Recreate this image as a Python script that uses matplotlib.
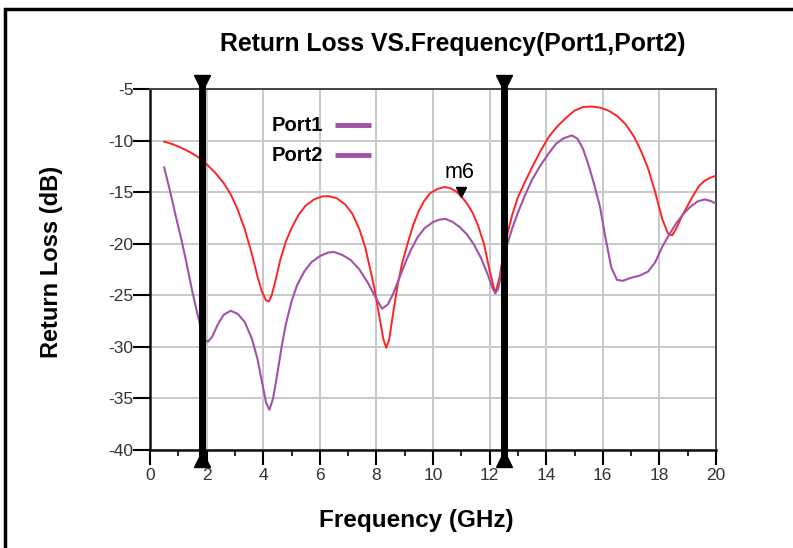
"""
Return loss vs. frequency for the two ports, with marker lines and m6 marker.
"""

from __future__ import annotations

import matplotlib

matplotlib.use("Agg")
import matplotlib.pyplot as plt
from matplotlib.patches import Rectangle
from matplotlib.transforms import blended_transform_factory

plt.rcParams.update(
    {
        "font.family": ["Liberation Sans", "DejaVu Sans"],
        "axes.unicode_minus": False,
    }
)

# Port1 (red trace)
port1_freq = [
    0.5, 0.8, 1.1, 1.4, 1.7, 2.0, 2.3, 2.6, 2.85, 3.1, 3.35, 3.6, 3.8, 3.95,
    4.1, 4.2, 4.3, 4.45, 4.6, 4.8, 5.0, 5.25, 5.5, 5.8, 6.1, 6.35, 6.6, 6.9,
    7.15, 7.4, 7.6, 7.8, 7.95, 8.1, 8.25, 8.35, 8.45, 8.6, 8.75, 8.9, 9.1,
    9.3, 9.5, 9.7, 9.9, 10.15, 10.4, 10.6, 10.8, 11.0, 11.2, 11.4, 11.6,
    11.8, 12.0, 12.2, 12.35, 12.5, 12.65, 12.8, 13.0, 13.25, 13.5, 13.8,
    14.1, 14.4, 14.7, 15.0, 15.3, 15.6, 15.9, 16.2, 16.5, 16.8, 17.1, 17.35,
    17.6, 17.85, 18.1, 18.3, 18.45, 18.6, 18.8, 19.0, 19.2, 19.4, 19.6,
    19.8, 20.0,
]
port1_rl = [
    -10.1, -10.35, -10.7, -11.1, -11.6, -12.3, -13.1, -14.1, -15.2, -16.7,
    -18.6, -21.0, -23.2, -24.6, -25.5, -25.6, -25.0, -23.4, -21.6, -19.8,
    -18.5, -17.2, -16.3, -15.7, -15.4, -15.4, -15.6, -16.2, -17.1, -18.6,
    -20.3, -22.7, -24.6, -27.0, -29.3, -30.1, -29.3, -26.6, -24.0, -22.0,
    -20.0, -18.2, -16.8, -15.8, -15.1, -14.7, -14.5, -14.6, -14.9, -15.4,
    -16.1, -17.0, -18.3, -20.0, -22.6, -24.8, -23.3, -20.8, -18.8, -17.2,
    -15.5, -14.0, -12.6, -11.0, -9.6, -8.6, -7.8, -7.1, -6.75, -6.7, -6.8,
    -7.1, -7.6, -8.4, -9.6, -11.0, -12.7, -15.0, -17.6, -19.0, -19.2, -18.5,
    -17.3, -16.3, -15.3, -14.4, -13.9, -13.6, -13.4,
]

# Port2 (purple trace)
port2_freq = [
    0.5, 0.7, 0.9, 1.1, 1.3, 1.5, 1.65, 1.78, 1.9, 2.05, 2.2, 2.4, 2.6,
    2.85, 3.1, 3.35, 3.6, 3.8, 3.95, 4.1, 4.22, 4.35, 4.5, 4.65, 4.8, 5.0,
    5.2, 5.45, 5.7, 6.0, 6.3, 6.5, 6.8, 7.1, 7.4, 7.7, 7.95, 8.2, 8.4, 8.6,
    8.8, 9.0, 9.2, 9.45, 9.7, 10.0, 10.25, 10.45, 10.7, 10.95, 11.2, 11.45,
    11.7, 11.95, 12.1, 12.2, 12.3, 12.45, 12.6, 12.8, 13.0, 13.25, 13.5,
    13.8, 14.1, 14.35, 14.6, 14.9, 15.1, 15.3, 15.5, 15.7, 15.9, 16.1, 16.3,
    16.5, 16.7, 17.0, 17.3, 17.6, 17.85, 18.1, 18.35, 18.6, 18.85, 19.1,
    19.35, 19.6, 19.8, 20.0,
]
port2_rl = [
    -12.6, -14.8, -17.2, -19.5, -22.0, -24.7, -26.5, -28.0, -29.3, -29.5,
    -29.0, -27.8, -26.9, -26.5, -26.8, -27.6, -29.2, -31.2, -33.3, -35.4,
    -36.1, -35.0, -32.6, -30.0, -27.8, -25.6, -24.0, -22.7, -21.8, -21.2,
    -20.85, -20.8, -21.1, -21.6, -22.5, -23.8, -25.1, -26.3, -25.9, -24.8,
    -23.4, -22.0, -20.7, -19.4, -18.5, -17.9, -17.65, -17.6, -17.9, -18.4,
    -19.1, -20.1, -21.4, -23.1, -24.3, -24.8, -24.4, -22.4, -20.3, -18.5,
    -17.0, -15.3, -13.8, -12.4, -11.2, -10.3, -9.8, -9.5, -9.8, -10.8,
    -12.4, -14.3, -16.4, -19.5, -22.3, -23.5, -23.6, -23.3, -23.1, -22.7,
    -21.8, -20.3, -19.1, -18.0, -17.1, -16.4, -15.9, -15.7, -15.85, -16.1,
]

marker_lines_ghz = [1.83, 12.52]
m6_freq, m6_rl = 11.0, -15.0

x_ticks = list(range(0, 21, 2))
x_minor = list(range(1, 20, 2))
y_ticks = list(range(-40, -4, 5))

RED = "#ff2424"
PURPLE = "#a052aa"
W, H = 793, 548


def plot_return_loss(out_path: str) -> None:
    fig = plt.figure(figsize=(W / 100, H / 100), dpi=100)
    ax = fig.add_axes([150 / W, 1 - 450 / H, 566 / W, 361 / H])

    ax.set_xlim(0, 20)
    ax.set_ylim(-40, -5)
    ax.set_xticks(x_ticks)
    ax.set_xticks(x_minor, minor=True)
    ax.set_yticks(y_ticks)
    ax.grid(True, color="#c8c8c8", linewidth=1.4)
    ax.set_axisbelow(True)

    for side in ("left", "bottom"):
        ax.spines[side].set_linewidth(1.8)
        ax.spines[side].set_color("#111111")
    for side in ("top", "right"):
        ax.spines[side].set_linewidth(1.4)
        ax.spines[side].set_color("#444444")

    ax.tick_params(axis="x", which="major", direction="out", length=11,
                   width=1.5, pad=2, labelsize=12.5, labelcolor="#333333")
    ax.tick_params(axis="x", which="minor", direction="out", length=4,
                   width=1.2)
    ax.tick_params(axis="y", direction="out", length=12, width=1.5, pad=0,
                   labelsize=12.5, labelcolor="#333333")

    ax.plot(port1_freq, port1_rl, color=RED, linewidth=1.4, zorder=3)
    ax.plot(port2_freq, port2_rl, color=PURPLE, linewidth=1.5, zorder=3)

    # marker lines with triangles above and below the frame
    trans = blended_transform_factory(ax.transData, ax.transAxes)
    for xm in marker_lines_ghz:
        ax.plot([xm, xm], [-0.036, 1.03], color="black", linewidth=5,
                transform=trans, clip_on=False, zorder=4)
        ax.plot([xm], [1.018], marker="v", markersize=11.5, color="black",
                transform=trans, clip_on=False, zorder=5)
        ax.plot([xm], [-0.024], marker="^", markersize=11.5, color="black",
                transform=trans, clip_on=False, zorder=5)

    ax.plot([m6_freq], [m6_rl], marker="v", markersize=7, color="black",
            zorder=5)
    ax.annotate("m6", (m6_freq, m6_rl), textcoords="offset points",
                xytext=(-1, 14), ha="center", va="center", fontsize=15.5)

    # legend drawn by hand, as in the original
    for label, yy in (("Port1", 0.900), ("Port2", 0.817)):
        ax.text(0.2155, yy, label, transform=ax.transAxes, fontsize=14.5,
                fontweight="bold", ha="left", va="center")
        ax.plot([0.327, 0.390], [yy, yy], color=PURPLE, linewidth=3.5,
                transform=ax.transAxes, solid_capstyle="butt")

    fig.text(453 / W, 1 - 44 / H, "Return Loss VS.Frequency(Port1,Port2)",
             ha="center", va="center", fontsize=17.8, fontweight="bold")
    fig.text(52 / W, 1 - 262 / H, "Return Loss (dB)", rotation=90,
             ha="center", va="center", fontsize=17, fontweight="bold")
    fig.text(416 / W, 1 - 521 / H, "Frequency (GHz)",
             ha="center", va="center", fontsize=17.5, fontweight="bold")

    fig.patches.append(
        Rectangle((5 / W, -0.1), 1.2, 1.1 - 9 / H, transform=fig.transFigure,
                  fill=False, edgecolor="black", linewidth=2.5)
    )

    fig.savefig(out_path, dpi=100)
    plt.close(fig)


if __name__ == "__main__":
    plot_return_loss("out.png")
